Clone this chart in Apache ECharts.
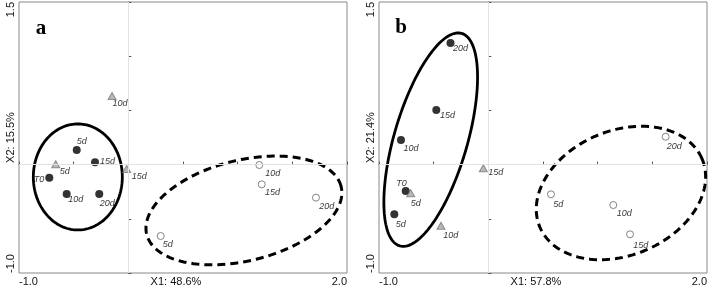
<!DOCTYPE html>
<html>
<head>
<meta charset="utf-8">
<script src="https://cdn.jsdelivr.net/npm/echarts@6/dist/echarts.min.js"></script>
<style>
  html, body { margin: 0; padding: 0; background: #fff; }
  #chart { width: 709px; height: 290px; }
</style>
</head>
<body>
<div id="chart"></div>
<script>
// sample names
var blackNames = ['T0', '5d', '10d', '15d', '20d'];
var grayNames = ['5d', '10d', '15d'];
var openNames = ['5d', '10d', '15d', '20d'];

// panel a
var aBlackX = [-0.723, -0.472, -0.564, -0.305, -0.266];
var aBlackY = [-0.121, 0.135, -0.271, 0.021, -0.271];
var aGrayX = [-0.664, -0.149, -0.015];
var aGrayY = [0.003, 0.633, -0.041];
var aOpenX = [0.296, 1.198, 1.220, 1.716];
var aOpenY = [-0.659, -0.004, -0.182, -0.305];

// panel b
var bBlackX = [-0.756, -0.860, -0.799, -0.476, -0.346];
var bBlackY = [-0.244, -0.458, 0.227, 0.504, 1.122];
var bGrayX = [-0.710, -0.433, -0.046];
var bGrayY = [-0.265, -0.564, -0.034];
var bOpenX = [0.573, 1.143, 1.296, 1.622];
var bOpenY = [-0.274, -0.373, -0.643, 0.257];

// ellipses: centre x, centre y, semi axis a, semi axis b, angle (deg)
var aSolidEllipse = [-0.462, -0.114, 0.407, 0.489, 0];
var aDashEllipse = [1.057, -0.423, 0.916, 0.464, 14];
var bSolidEllipse = [-0.527, 0.230, 1.02, 0.335, 73.9];
var bDashEllipse = [1.213, -0.262, 0.806, 0.574, 23.2];

var xTickLabels = [-1.0, 2.0];
var yTickLabels = [-1.0, 1.5];
var xTitles = ['X1: 48.6%', 'X1: 57.8%'];
var yTitles = ['X2: 15.5%', 'X2: 21.4%'];
var panelTags = ['a', 'b'];

// label placement (dx, dy from marker centre)
var aBlackOff = [[-5, 2], [0, -8], [1.5, 5.5], [5, -1], [0.5, 10]];
var aGrayOff = [[4, 7], [0.5, 8], [5, 7]];
var aOpenOff = [[2, 8], [6, 8], [3.3, 8.5], [3.3, 9]];
var bBlackOff = [[1, -8], [1.5, 10], [2.6, 8.7], [3.7, 6], [2.5, 6]];
var bGrayOff = [[0, 10], [2.3, 9.6], [5, 4]];
var bOpenOff = [[2.3, 9.7], [3.4, 8.3], [3.3, 10.7], [1, 9.5]];

var myChart = echarts.init(document.getElementById('chart'));

function points(xs, ys, names, offs) {
  var out = [];
  for (var i = 0; i < xs.length; i++) {
    var right = names[i] === 'T0';
    out.push({
      value: [xs[i], ys[i]],
      name: names[i],
      label: { offset: offs[i], align: right ? 'right' : 'left' }
    });
  }
  return out;
}

function ellipseItem(dashed) {
  return function (params, api) {
    var cx = api.value(0), cy = api.value(1);
    var ra = api.value(2), rb = api.value(3);
    var th = api.value(4) * Math.PI / 180;
    var pts = [];
    for (var i = 0; i <= 160; i++) {
      var t = i / 160 * 2 * Math.PI;
      var x = cx + ra * Math.cos(t) * Math.cos(th) - rb * Math.sin(t) * Math.sin(th);
      var y = cy + ra * Math.cos(t) * Math.sin(th) + rb * Math.sin(t) * Math.cos(th);
      pts.push(api.coord([x, y]));
    }
    return {
      type: 'polyline',
      shape: { points: pts },
      style: {
        fill: null,
        stroke: '#000',
        lineWidth: dashed ? 3 : 2.8,
        lineDash: dashed ? [8, 5] : null
      }
    };
  };
}

var ptLabel = {
  show: true,
  position: 'inside',
  verticalAlign: 'middle',
  formatter: '{b}',
  fontSize: 9,
  fontStyle: 'italic',
  color: '#000'
};

function panelSeries(i, bx, by, bo, gx, gy, go, ox, oy, oo, solid, dash) {
  return [{
    type: 'custom',
    xAxisIndex: i, yAxisIndex: i,
    renderItem: ellipseItem(false),
    data: [solid],
    encode: { x: 0, y: 1 },
    z: 1,
    silent: true,
    markLine: {
      silent: true,
      symbol: 'none',
      label: { show: false },
      lineStyle: { color: '#e2e2e2', width: 1, type: 'solid' },
      data: [{ xAxis: 0 }, { yAxis: 0 }]
    }
  }, {
    type: 'custom',
    xAxisIndex: i, yAxisIndex: i,
    renderItem: ellipseItem(true),
    data: [dash],
    encode: { x: 0, y: 1 },
    z: 1,
    silent: true
  }, {
    type: 'scatter',
    xAxisIndex: i, yAxisIndex: i,
    symbol: 'circle',
    symbolSize: 8,
    itemStyle: { color: '#000' },
    label: ptLabel,
    data: points(bx, by, blackNames, bo),
    z: 3
  }, {
    type: 'scatter',
    xAxisIndex: i, yAxisIndex: i,
    symbol: 'triangle',
    symbolSize: [8, 7],
    itemStyle: { color: '#a8a8a8', borderColor: '#777', borderWidth: 1 },
    label: ptLabel,
    data: points(gx, gy, grayNames, go),
    z: 3
  }, {
    type: 'scatter',
    xAxisIndex: i, yAxisIndex: i,
    symbol: 'circle',
    symbolSize: 7,
    itemStyle: { color: '#fff', borderColor: '#666', borderWidth: 1 },
    label: ptLabel,
    data: points(ox, oy, openNames, oo),
    z: 3
  }];
}

var grids = [
  { left: 19, right: 362, top: 2, bottom: 17 },
  { left: 379, right: 2, top: 2, bottom: 17 }
];

var option = {
  animation: false,
  backgroundColor: '#fff',
  textStyle: { fontFamily: 'Liberation Sans, Arial, sans-serif' },
  grid: grids.map(function (g) {
    return Object.assign({
      show: true, borderColor: '#888', borderWidth: 1,
      containLabel: false, outerBoundsMode: 'none'
    }, g);
  }),
  xAxis: [0, 1].map(function (i) {
    return {
      type: 'value', gridIndex: i,
      min: -1, max: 2, interval: 0.5,
      name: xTitles[i],
      nameLocation: 'middle',
      nameGap: 3,
      nameMoveOverlap: false,
      nameTextStyle: { fontSize: 11, color: '#111', verticalAlign: 'top', padding: [0, 14, 0, 0] },
      axisLine: { lineStyle: { color: '#555', width: 1 } },
      axisTick: { inside: true, length: 3, lineStyle: { color: '#555' } },
      axisLabel: {
        fontSize: 11, color: '#111', margin: 3,
        alignMinLabel: 'left', alignMaxLabel: 'right',
        formatter: function (v) {
          return xTickLabels.indexOf(v) >= 0 ? v.toFixed(1) : '';
        }
      },
      splitLine: { show: false }
    };
  }),
  yAxis: [0, 1].map(function (i) {
    return {
      type: 'value', gridIndex: i,
      min: -1, max: 1.5, interval: 0.5,
      name: yTitles[i],
      nameLocation: 'middle',
      nameGap: 3,
      nameMoveOverlap: false,
      nameTextStyle: { fontSize: 11, color: '#111' },
      axisLine: { show: true, lineStyle: { color: '#555', width: 1 } },
      axisTick: { show: true, inside: true, length: 3, lineStyle: { color: '#555' } },
      axisLabel: {
        fontSize: 11, color: '#111', margin: 3, rotate: 90,
        alignMinLabel: 'left', alignMaxLabel: 'right',
        formatter: function (v) {
          return yTickLabels.indexOf(v) >= 0 ? v.toFixed(1) : '';
        }
      },
      splitLine: { show: false }
    };
  }),
  graphic: [
    { type: 'text', x: 41, y: 29, style: { text: panelTags[0], font: 'bold 21px "Liberation Serif", serif', fill: '#000', align: 'center', verticalAlign: 'middle' } },
    { type: 'text', x: 401, y: 28, style: { text: panelTags[1], font: 'bold 21px "Liberation Serif", serif', fill: '#000', align: 'center', verticalAlign: 'middle' } }
  ],
  series: [].concat(
    panelSeries(0, aBlackX, aBlackY, aBlackOff, aGrayX, aGrayY, aGrayOff, aOpenX, aOpenY, aOpenOff, aSolidEllipse, aDashEllipse),
    panelSeries(1, bBlackX, bBlackY, bBlackOff, bGrayX, bGrayY, bGrayOff, bOpenX, bOpenY, bOpenOff, bSolidEllipse, bDashEllipse)
  )
};

myChart.setOption(option);
</script>
</body>
</html>
